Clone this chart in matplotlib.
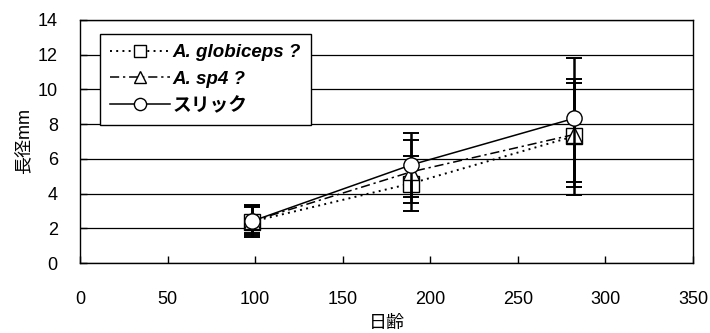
import matplotlib
matplotlib.use("Agg")
import matplotlib.pyplot as plt
import numpy as np

plt.rcParams['font.family'] = ['Liberation Sans', 'Noto Sans CJK JP', 'DejaVu Sans']

# Data
days = [98, 189, 282]
series_names = ["A. globiceps ?", "A. sp4 ?", "スリック"]
globiceps_mean = [2.38, 4.58, 7.30]
globiceps_low = [1.48, 3.01, 4.68]
globiceps_high = [3.24, 6.15, 10.35]
sp4_mean = [2.40, 5.25, 7.40]
sp4_low = [1.60, 3.44, 4.40]
sp4_high = [3.30, 7.09, 10.58]
slick_mean = [2.40, 5.65, 8.33]
slick_low = [1.73, 3.78, 3.92]
slick_high = [3.34, 7.47, 11.79]

x_ticks = [0, 50, 100, 150, 200, 250, 300, 350]
y_ticks = [0, 2, 4, 6, 8, 10, 12, 14]

fig = plt.figure(figsize=(7.10, 3.33), dpi=100)
ax = fig.add_axes([80/710, 70/333, 613/710, 243/333])

styles = [
    dict(ls=(0, (1, 2.2)), lw=1.4, marker='s', label=series_names[0], mean=globiceps_mean, lo=globiceps_low, hi=globiceps_high),
    dict(ls=(0, (6, 2.5, 1.5, 2.5)), lw=1.1, marker='^', label=series_names[1], mean=sp4_mean, lo=sp4_low, hi=sp4_high),
    dict(ls='-', lw=1.1, marker='o', label=series_names[2], mean=slick_mean, lo=slick_low, hi=slick_high),
]

handles = []
for i, s in enumerate(styles):
    m = np.array(s['mean'])
    lo = m - np.array(s['lo'])
    hi = np.array(s['hi']) - m
    ax.errorbar(days, m, yerr=[lo, hi], fmt='none', ecolor='black',
                elinewidth=1.8, capsize=6, capthick=1.4, zorder=3 + i)
    ln, = ax.plot(days, m, color='black', linestyle=s['ls'], linewidth=s['lw'],
                  marker=s['marker'], markersize=11, markerfacecolor='white',
                  markeredgecolor='black', markeredgewidth=1.0, zorder=4 + i,
                  label=s['label'])
    handles.append(ln)

ax.set_xlim(0, 350)
ax.set_ylim(0, 14)
ax.set_xticks(x_ticks)
ax.set_yticks(y_ticks)
ax.yaxis.grid(True, color='black', linewidth=0.9)
ax.set_axisbelow(True)
ax.tick_params(axis='both', direction='in', length=5, width=1, labelsize=13, colors='black')
ax.tick_params(axis='x', pad=20)
ax.tick_params(axis='y', pad=16)
for sp in ax.spines.values():
    sp.set_color('black')
    sp.set_linewidth(1.0)

ax.set_xlabel("日齢", fontsize=13, labelpad=5)
ax.set_ylabel("長径mm", fontsize=13, labelpad=3)

leg = ax.legend(handles=handles, loc='upper left', bbox_to_anchor=(20/613, 229/243),
                frameon=True, fancybox=False, edgecolor='black', framealpha=1,
                prop=dict(size=13.5, weight='bold', style='italic'),
                handlelength=3.2, handletextpad=0.1, borderpad=0.55, labelspacing=0.5,
                borderaxespad=0, markerscale=0.8)
leg.get_frame().set_linewidth(1.0)

fig.savefig("out.png", dpi=100)
